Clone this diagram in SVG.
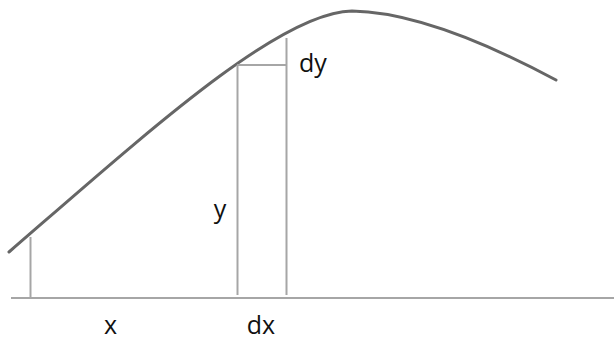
<svg xmlns="http://www.w3.org/2000/svg" width="614" height="342" viewBox="0 0 614 342">
  <style>
    .curve { fill: none; stroke: #666; stroke-width: 3; stroke-linecap: round; }
    .thin { fill: none; stroke: #a6a6a6; stroke-width: 2; }
    .lbl { font-family: "Open Sans", "Liberation Sans", sans-serif; font-size: 25px; fill: #111; }
  </style>
  <rect width="614" height="342" fill="#fff"/>
  <g id="curve">
    <path class="curve" d="M9,252 C150,130 280,12 352,11 C420,12 500,50 556,80"/>
  </g>
  <g id="connectors">
    <line class="thin" x1="11" y1="298" x2="614" y2="298"/>
    <line class="thin" x1="30.5" y1="237" x2="30.5" y2="297"/>
    <line class="thin" x1="237.5" y1="65" x2="237.5" y2="295"/>
    <line class="thin" x1="286.5" y1="38" x2="286.5" y2="295"/>
    <line class="thin" x1="237" y1="65" x2="287" y2="65"/>
  </g>
  <g id="label-x"><text class="lbl" x="110.5" y="334" text-anchor="middle">x</text></g>
  <g id="label-dx"><text class="lbl" x="261" y="334" text-anchor="middle">dx</text></g>
  <g id="label-y"><text class="lbl" x="220" y="218" text-anchor="middle">y</text></g>
  <g id="label-dy"><text class="lbl" x="299" y="72">dy</text></g>
</svg>
